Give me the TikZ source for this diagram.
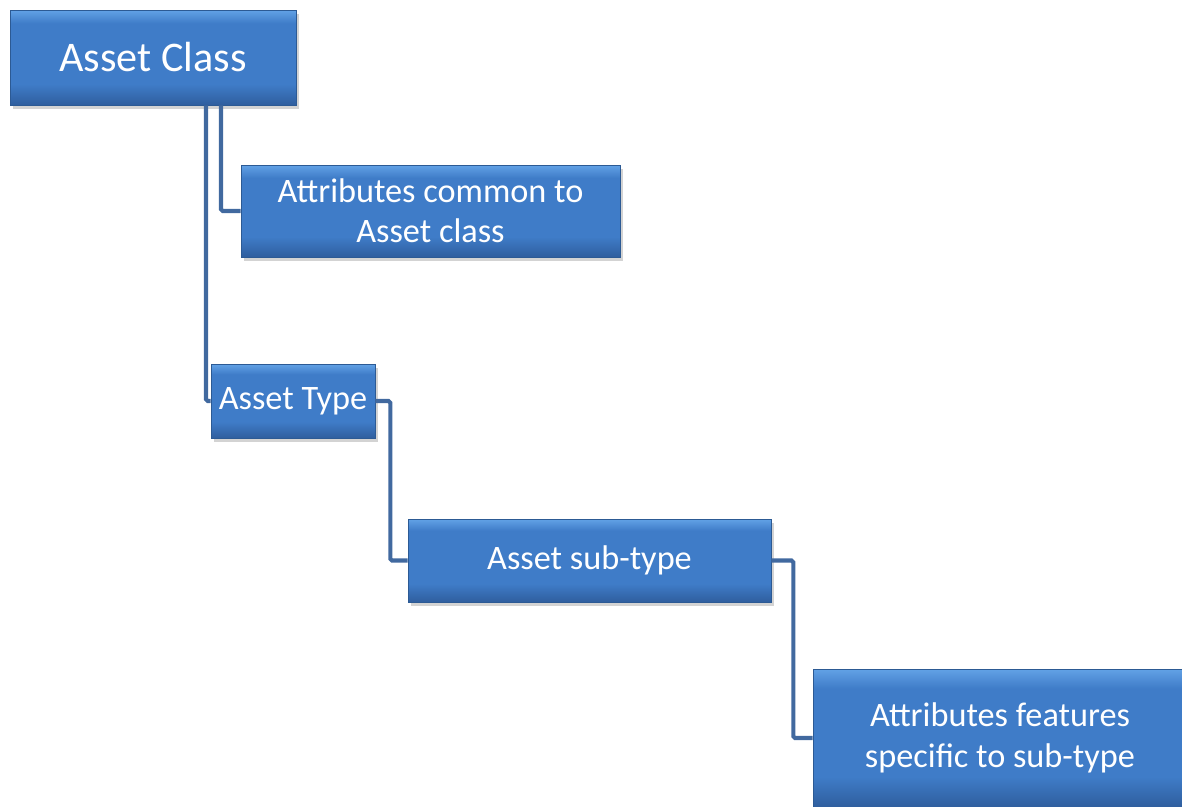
\documentclass[tikz,border=0pt]{standalone}
\usepackage{fontspec}
\setmainfont{Carlito}
\usetikzlibrary{shadows}
\definecolor{boxtop}{HTML}{62A2E6}
\definecolor{boxmid}{HTML}{3F7CC8}
\definecolor{boxbot}{HTML}{2F5E9E}
\definecolor{boxedge}{HTML}{2C5A94}
\definecolor{linkblue}{HTML}{41699F}
\pgfdeclareverticalshading{assetshade}{100bp}{color(0bp)=(boxbot); color(25bp)=(boxbot); color(36bp)=(boxmid); color(68bp)=(boxmid); color(75bp)=(boxtop); color(100bp)=(boxtop)}
\tikzset{
  assetbox/.style={rectangle, draw=boxedge, line width=0.4pt, shading=assetshade, text=white, inner sep=0pt, align=center, font=\fontsize{19.5}{23}\selectfont, drop shadow={opacity=0.35, shadow xshift=1.5pt, shadow yshift=-2.5pt}},
  assetlink/.style={draw=linkblue, line width=2.3pt, rounded corners=1pt}
}
\begin{document}
\begin{tikzpicture}[x=0.02cm, y=-0.02cm]
            \useasboundingbox (0,0) rectangle (1182,806);%
            
            % Marking box Asset Class
            \node [assetbox, minimum width=5.72cm, minimum height=1.9cm, font=\fontsize{24}{28}\selectfont] (aclass) at (153,57.5) {Asset Class};%
            
            % Marking box common attributes
            \node [assetbox, minimum width=7.58cm, minimum height=1.84cm] (acommon) at (430.5,211) {Attributes common to\\Asset class};%
            
            % Marking box Asset Type
            \node [assetbox, minimum width=3.28cm, minimum height=1.48cm] (atype) at (293,401) {Asset Type};%
            
            % Marking box Asset sub-type
            \node [assetbox, minimum width=7.26cm, minimum height=1.66cm] (asub) at (589.5,560.5) {Asset sub-type};%
            
            % Marking box specific attributes
            \node [assetbox, minimum width=7.48cm, minimum height=2.76cm] (aspecific) at (1000,738) {Attributes features\\specific to sub-type};%
            
            % Drawing link Asset Class to common attributes
            \draw [assetlink] ([xshift=1.36cm]aclass.south) |- (acommon.west);%
            
            % Drawing link Asset Class to Asset Type
            \draw [assetlink] ([xshift=1.06cm]aclass.south) |- (atype.west);%
            
            % Drawing link Asset Type to Asset sub-type
            \draw [assetlink] (atype.east) -- ++(0.3cm,0) |- (asub.west);%
            
            % Drawing link Asset sub-type to specific attributes
            \draw [assetlink] (asub.east) -- ++(0.44cm,0) |- (aspecific.west);%
\end{tikzpicture}
\end{document}
